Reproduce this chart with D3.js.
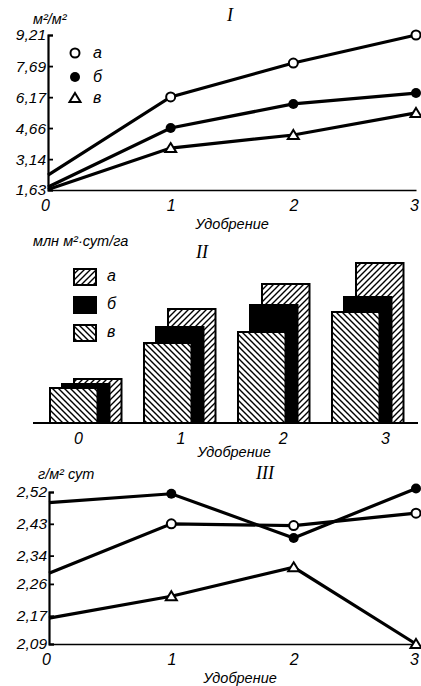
<!DOCTYPE html>
<html><head><meta charset="utf-8">
<script src="https://cdn.jsdelivr.net/npm/d3@7"></script>
<style>
body{margin:0;background:#fff}
svg text{font-family:"Liberation Sans",Arial,sans-serif;font-style:italic;fill:#000}
.roman{font-family:"Liberation Serif",serif!important;font-style:italic}
</style></head><body>
<svg id="c" width="421" height="686"></svg>
<script>
// ---- data ----
const fertilizer = [0, 1, 2, 3];
const seriesNames = ["а", "б", "в"];
// Panel I (м²/м²)
const p1Ticks = [1.63, 3.14, 4.66, 6.17, 7.69, 9.21];
const p1A = [2.36, 6.18, 7.84, 9.21];
const p1B = [1.78, 4.66, 5.84, 6.37];
const p1V = [1.65, 3.68, 4.32, 5.40];
// Panel II (млн м²·сут/га, relative heights)
const p2A = [44, 114, 139, 160];
const p2B = [39, 96, 118, 126];
const p2V = [35, 80, 91, 111];
// Panel III (г/м² сут)
const p3Ticks = [2.09, 2.17, 2.26, 2.34, 2.43, 2.52];
const p3A = [2.29, 2.43, 2.425, 2.46];
const p3B = [2.49, 2.515, 2.39, 2.53];
const p3V = [2.163, 2.225, 2.307, 2.09];

const svg = d3.select("#c");
const defs = svg.append("defs");
function hatch(id, d) {
  const p = defs.append("pattern").attr("id", id).attr("patternUnits", "userSpaceOnUse")
    .attr("width", 6).attr("height", 6);
  p.append("rect").attr("width", 6).attr("height", 6).attr("fill", "#fff");
  p.append("path").attr("d", d).attr("stroke", "#000").attr("stroke-width", 1.4);
}
hatch("fwd", "M-1,7 L7,-1 M-4,4 L4,-4 M2,10 L10,2");
hatch("bwd", "M-1,-1 L7,7 M-4,2 L4,10 M2,-4 L10,4");

function marker(g, type, x, y) {
  if (type === 0) g.append("circle").attr("cx", x).attr("cy", y).attr("r", 4.5).attr("fill", "#fff").attr("stroke", "#000").attr("stroke-width", 2);
  else if (type === 1) g.append("circle").attr("cx", x).attr("cy", y).attr("r", 5).attr("fill", "#000");
  else g.append("path").attr("d", `M${x},${y-5} L${x+5.5},${y+4} L${x-5.5},${y+4} Z`).attr("fill", "#fff").attr("stroke", "#000").attr("stroke-width", 2);
}

function linePanel(opt) {
  const g = svg.append("g");
  const x = d3.scaleLinear().domain([0, 3]).range(opt.xr);
  const y = d3.scaleLinear().domain([opt.ticks[0], opt.ticks[opt.ticks.length - 1]]).range(opt.yr);
  const ya = d3.axisLeft(y).tickValues(opt.ticks).tickSize(-5).tickPadding(5).tickFormat(d => d.toFixed(2).replace(".", ","));
  const yg = g.append("g").attr("transform", `translate(${opt.xr[0]},0)`).call(ya);
  yg.select(".domain").attr("stroke-width", 2.2);
  yg.selectAll(".tick line").attr("stroke-width", 1.8);
  yg.selectAll("text").attr("font-size", 15.5).attr("dx", 3);
  const xa = d3.axisBottom(x).tickValues(fertilizer).tickSize(0).tickPadding(10).tickFormat(d3.format("d"));
  const xg = g.append("g").attr("transform", `translate(0,${opt.yr[0]})`).call(xa);
  xg.select(".domain").attr("stroke-width", 1.5);
  xg.selectAll("text").attr("font-size", 16);
  xg.selectAll(".tick").filter(d => d === 0).select("text").attr("dx", -3);
  xg.selectAll(".tick").filter(d => d === 3).select("text").attr("dx", -2);
  g.append("text").attr("x", opt.xlab[0]).attr("y", opt.xlab[1]).attr("text-anchor", "middle").attr("font-size", 14.5).text("Удобрение");
  g.append("text").attr("x", opt.unit[0]).attr("y", opt.unit[1]).attr("font-size", 14.5).text(opt.unitText);
  g.append("text").attr("class", "roman").attr("x", opt.title[0]).attr("y", opt.title[1]).attr("text-anchor", "middle").attr("font-size", 18).text(opt.titleText);
  const line = d3.line().x((d, i) => x(fertilizer[i])).y(d => y(d));
  opt.series.forEach(s => {
    g.append("path").attr("d", line(s)).attr("fill", "none").attr("stroke", "#000").attr("stroke-width", 3.2);
  });
  opt.series.forEach((s, k) => {
    s.forEach((v, i) => { if (i > 0) marker(g, k, x(fertilizer[i]), y(v)); });
  });
  return g;
}

// Panel I
const g1 = linePanel({xr: [48, 416], yr: [190, 35], ticks: p1Ticks, series: [p1A, p1B, p1V],
  xlab: [232, 229], unit: [33, 24], unitText: "м²/м²", title: [230, 21], titleText: "I"});
seriesNames.forEach((n, k) => {
  const yy = [53, 77, 98][k];
  marker(g1, k, 75, yy);
  g1.append("text").attr("x", 93).attr("y", yy + 5).attr("font-size", 16).text(n);
});

// Panel II
const g2 = svg.append("g");
const base = 423;
const bx = d3.scaleBand().domain(fertilizer).range([50, 404]).paddingInner(0.234).paddingOuter(0);
const by = d3.scaleLinear().domain([0, 160]).range([base, base - 160]);
const bw = 47.5, off = 12;
const bars = [
  {vals: p2A, fill: "url(#fwd)", o: 2 * off},
  {vals: p2B, fill: "#000", o: off},
  {vals: p2V, fill: "url(#bwd)", o: 0}
];
bars.forEach(b => {
  g2.selectAll(null).data(b.vals).enter().append("rect")
    .attr("x", (d, i) => bx(fertilizer[i]) + b.o).attr("y", d => by(d))
    .attr("width", bw).attr("height", d => base - by(d))
    .attr("fill", b.fill).attr("stroke", "#000").attr("stroke-width", 2);
});
g2.append("line").attr("x1", 33).attr("x2", 418).attr("y1", base).attr("y2", base).attr("stroke", "#000").attr("stroke-width", 2);
const bxa = d3.axisBottom(d3.scalePoint().domain(fertilizer).range([78, 385])).tickSize(0).tickPadding(10).tickFormat(d3.format("d"));
const bxg = g2.append("g").attr("transform", `translate(0,${base})`).call(bxa);
bxg.select(".domain").remove();
bxg.selectAll("text").attr("font-size", 16);
g2.append("text").attr("x", 234).attr("y", 457).attr("text-anchor", "middle").attr("font-size", 14.5).text("Удобрение");
g2.append("text").attr("x", 33).attr("y", 246).attr("font-size", 14.5).text("млн м²·сут/га");
g2.append("text").attr("class", "roman").attr("x", 202).attr("y", 258).attr("text-anchor", "middle").attr("font-size", 18).text("II");
seriesNames.forEach((n, k) => {
  const yy = [269, 297, 325][k];
  g2.append("rect").attr("x", 74).attr("y", yy).attr("width", 22).attr("height", 16)
    .attr("fill", ["url(#fwd)", "#000", "url(#bwd)"][k]).attr("stroke", "#000").attr("stroke-width", 2);
  g2.append("text").attr("x", 107).attr("y", yy + 12).attr("font-size", 16).text(n);
});

// Panel III
linePanel({xr: [49, 416], yr: [644, 492], ticks: p3Ticks, series: [p3A, p3B, p3V],
  xlab: [240, 683], unit: [38, 479], unitText: "г/м² сут", title: [265, 479], titleText: "III"});
</script>
</body></html>
